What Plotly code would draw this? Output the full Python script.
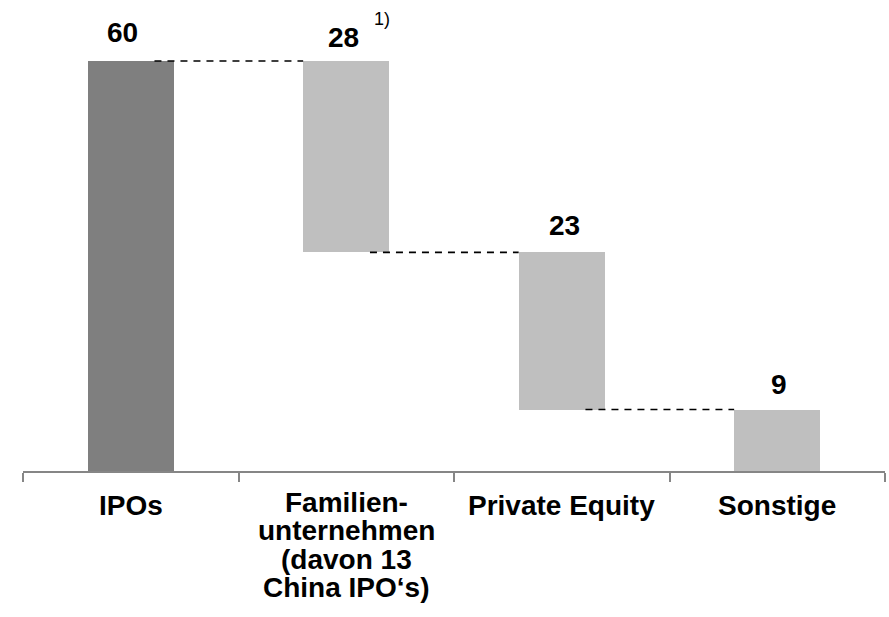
import plotly.graph_objects as go

# Source of the deals (waterfall: total, then its components)
categories = ["IPOs", "Familienunternehmen", "Private Equity", "Sonstige"]
label_lines = [
    ["IPOs"],
    ["Familien-", "unternehmen", "(davon 13", "China IPO‘s)"],
    ["Private Equity"],
    ["Sonstige"],
]
values = [60, 28, 23, 9]
footnote = "1)"

# floating bars: first bar is the total, the rest step down from it
bases = [0]
running = values[0]
for v in values[1:]:
    running -= v
    bases.append(running)
tops = [b + v for b, v in zip(bases, values)]

colors = ["#7f7f7f", "#bfbfbf", "#bfbfbf", "#bfbfbf"]
FONT = "Liberation Sans, Arial, sans-serif"
BAR_W = 0.4

fig = go.Figure(
    go.Bar(
        x=list(range(len(categories))),
        y=values,
        base=bases,
        width=BAR_W,
        marker=dict(color=colors, line=dict(width=0)),
        hoverinfo="skip",
    )
)

# dashed connectors: from each bar to the top of the next one
for i in range(len(values) - 1):
    level = tops[i + 1]
    fig.add_shape(
        type="line",
        xref="x", yref="y",
        x0=i + 0.11, x1=i + 1 - BAR_W / 2,
        y0=level, y1=level,
        line=dict(color="black", width=1.6, dash="7px,6px"),
    )

# value labels above each bar
value_xshift = [-8, -3, 3, 2]
value_yshift = [29, 24, 27, 25]
for i, (t, v) in enumerate(zip(tops, values)):
    fig.add_annotation(
        x=i, y=t, xref="x", yref="y",
        text=f"<b>{v}</b>", showarrow=False,
        xanchor="center", yanchor="middle",
        xshift=value_xshift[i], yshift=value_yshift[i],
        font=dict(family=FONT, size=28, color="black"),
    )

# footnote marker next to the second value
fig.add_annotation(
    x=1, y=tops[1], xref="x", yref="y",
    text=footnote, showarrow=False,
    xanchor="center", yanchor="middle",
    xshift=36, yshift=42,
    font=dict(family=FONT, size=18, color="black"),
)

# category labels, one annotation per line for tight line spacing
LINE_STEP = 28.3
for i, lines in enumerate(label_lines):
    top_shift = -31.5 if len(lines) > 1 else -34.0
    for k, line in enumerate(lines):
        fig.add_annotation(
            x=i, y=0, xref="x", yref="paper",
            text=f"<b>{line}</b>", showarrow=False,
            xanchor="center", yanchor="middle",
            yshift=top_shift - k * LINE_STEP,
            font=dict(family=FONT, size=28, color="black"),
        )

fig.update_layout(
    width=889, height=617,
    margin=dict(l=23, r=4, t=20, b=146),
    paper_bgcolor="white", plot_bgcolor="white",
    showlegend=False,
    bargap=0,
    xaxis=dict(
        range=[-0.5, len(categories) - 0.5],
        tickmode="array",
        tickvals=[i - 0.5 for i in range(len(categories) + 1)],
        ticktext=[""] * (len(categories) + 1),
        showticklabels=False,
        ticks="outside", ticklen=9, tickwidth=2, tickcolor="#868686",
        showline=True, linecolor="#868686", linewidth=2,
        showgrid=False, zeroline=False, fixedrange=True,
    ),
    yaxis=dict(
        range=[0, 66], visible=False,
        showgrid=False, zeroline=False, fixedrange=True,
    ),
)

fig.write_html("out.html")
